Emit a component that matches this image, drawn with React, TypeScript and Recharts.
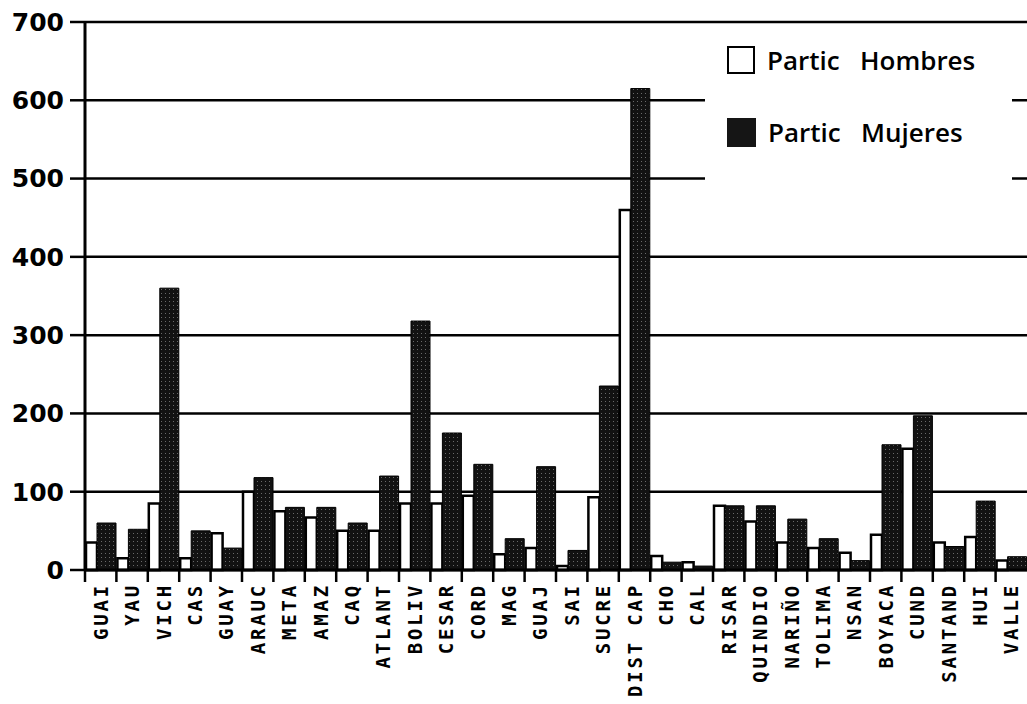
import { Bar, BarChart, CartesianGrid, Legend, XAxis, YAxis } from "recharts";

const categories = [
  "GUAI", "YAU", "VICH", "CAS", "GUAY", "ARAUC", "META", "AMAZ", "CAQ", "ATLANT",
  "BOLIV", "CESAR", "CORD", "MAG", "GUAJ", "SAI", "SUCRE", "DIST CAP", "CHO", "CAL",
  "RISAR", "QUINDIO", "NARIÑO", "TOLIMA", "NSAN", "BOYACA", "CUND", "SANTAND", "HUI", "VALLE",
];

const hombres = [
  35, 15, 85, 15, 47, 100, 75, 67, 50, 50,
  85, 85, 95, 20, 28, 5, 93, 460, 18, 10,
  82, 62, 35, 28, 22, 45, 155, 35, 42, 12,
];

const mujeres = [
  60, 52, 360, 50, 28, 118, 80, 80, 60, 120,
  318, 175, 135, 40, 132, 25, 235, 615, 10, 5,
  82, 82, 65, 40, 12, 160, 197, 30, 88, 17,
];

const yTicks = [0, 100, 200, 300, 400, 500, 600, 700];

const data = categories.map((name, i) => ({
  name,
  hombres: hombres[i],
  mujeres: mujeres[i],
}));

function CategoryTick(props: any) {
  const { x, y, payload } = props;
  const half = payload?.offset ?? 15.7;
  return (
    <g>
      <line x1={x - half} x2={x - half} y1={y} y2={y + 12} stroke="#000" strokeWidth={2.5} />
      <text
        transform={`translate(${x + 7},${y + 13}) rotate(-90)`}
        textAnchor="end"
        fill="#000"
        fontFamily="'DejaVu Sans Mono', monospace"
        fontWeight="bold"
        fontSize={19}
        letterSpacing={2.8}
      >
        {payload.value}
      </text>
    </g>
  );
}

function LegendBox() {
  const rowStyle = {
    position: "absolute" as const,
    left: 22,
    display: "flex",
    alignItems: "center",
    fontFamily: "'Open Sans', sans-serif",
    fontWeight: 600,
    fontSize: 26,
    color: "#000",
    whiteSpace: "pre" as const,
  };
  return (
    <div style={{ position: "relative", width: "100%", height: "100%" }}>
      <div style={{ ...rowStyle, top: 12 }}>
        <span
          style={{
            display: "inline-block",
            width: 24,
            height: 24,
            border: "2.5px solid #000",
            background: "#fff",
            marginRight: 12,
          }}
        />
        {"Partic   Hombres"}
      </div>
      <div style={{ ...rowStyle, top: 84 }}>
        <span
          style={{
            display: "inline-block",
            width: 29,
            height: 29,
            background: "#151515",
            marginRight: 12,
          }}
        />
        {"Partic   Mujeres"}
      </div>
    </div>
  );
}

export default function App() {
  return (
    <div style={{ position: "absolute", left: 0, top: 0, background: "#fff" }}>
      <svg width={0} height={0} style={{ position: "absolute" }}>
        <defs>
          <pattern id="stipple" width={4} height={4} patternUnits="userSpaceOnUse">
            <rect width={4} height={4} fill="#121212" />
            <rect x={1} y={1} width={1} height={1} fill="#6a6a6a" />
          </pattern>
        </defs>
      </svg>
      <BarChart
        width={1027}
        height={704}
        data={data}
        margin={{ top: 22, right: 0, left: 0, bottom: 0 }}
        barGap={0}
        barCategoryGap={0}
      >
        <CartesianGrid vertical={false} stroke="#000" strokeWidth={2.5} />
        <XAxis
          dataKey="name"
          interval={0}
          height={134}
          tickLine={false}
          tickSize={0}
          tickMargin={0}
          axisLine={{ stroke: "#000", strokeWidth: 3 }}
          tick={<CategoryTick />}
        />
        <YAxis
          domain={[0, 700]}
          ticks={yTicks}
          width={85}
          tickSize={15}
          tickMargin={6}
          axisLine={{ stroke: "#000", strokeWidth: 3 }}
          tickLine={{ stroke: "#000", strokeWidth: 2.5 }}
          tick={{
            fill: "#000",
            fontSize: 25,
            fontWeight: "bold",
            fontFamily: "'DejaVu Sans', sans-serif",
          }}
        />
        <Legend
          layout="vertical"
          align="center"
          verticalAlign="middle"
          content={<LegendBox />}
          wrapperStyle={{
            top: 30,
            left: 705,
            width: 307,
            height: 150,
            backgroundColor: "#fff",
          }}
        />
        <Bar
          dataKey="hombres"
          name="Partic Hombres"
          fill="#fff"
          stroke="#000"
          strokeWidth={2.5}
          barSize={11}
          isAnimationActive={false}
        />
        <Bar
          dataKey="mujeres"
          name="Partic Mujeres"
          fill="url(#stipple)"
          stroke="#000"
          strokeWidth={1}
          barSize={19}
          isAnimationActive={false}
        />
      </BarChart>
    </div>
  );
}
